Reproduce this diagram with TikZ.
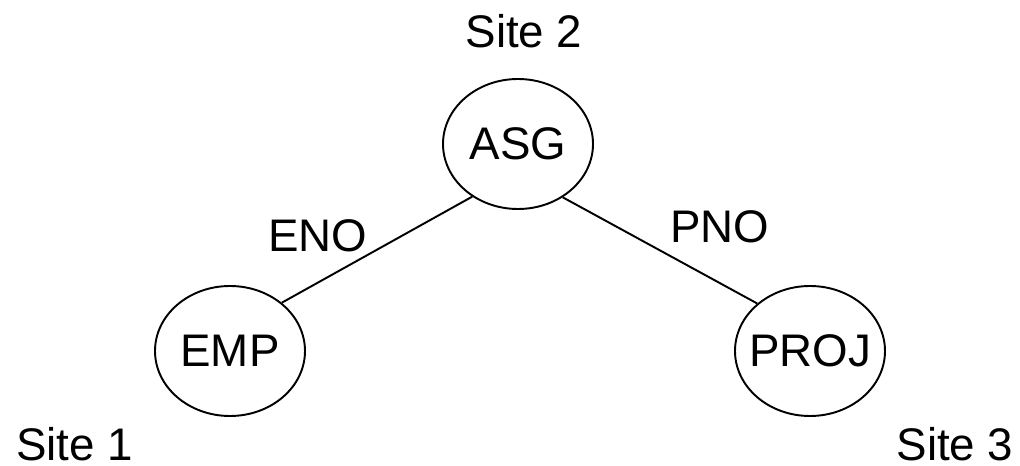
\documentclass[tikz,border=0pt]{standalone}
\usepackage{fontspec}
\setmainfont{Liberation Sans}
\usepackage{tikz}
\usetikzlibrary{shapes.geometric}

\begin{document}
\begin{tikzpicture}[
    entity/.style={ellipse, draw, line width=1.1pt, minimum width=3cm,
                   minimum height=2.6cm, inner sep=0pt},
    every node/.append style={font=\fontsize{26}{30}\selectfont},
    link/.style={line width=1.1pt},
    site/.style={anchor=base, inner sep=0pt}
  ]
    \useasboundingbox (0,0) rectangle (20.4,9.32);
    % relations
    \node[entity, label={center:ASG}] (asg) at (10.36,6.44) {};
    \node[entity, label={center:EMP}] (emp) at (4.60,2.30) {};
    \node[entity, label={center:PROJ}] (proj) at (16.20,2.30) {};
    % join edges
    \draw[link] (asg.229) -- (emp.43);
    \draw[link] (asg.310) -- (proj.138);
    \node (eno) at (6.36,4.60) {ENO};
    \node (pno) at (14.40,4.78) {PNO};
    % sites
    \node[site] (site2) at (10.48,8.36) {Site 2};
    \node[site] (site1) at (1.49,0.10) {Site 1};
    \node[site] (site3) at (19.10,0.10) {Site 3};
\end{tikzpicture}
\end{document}
